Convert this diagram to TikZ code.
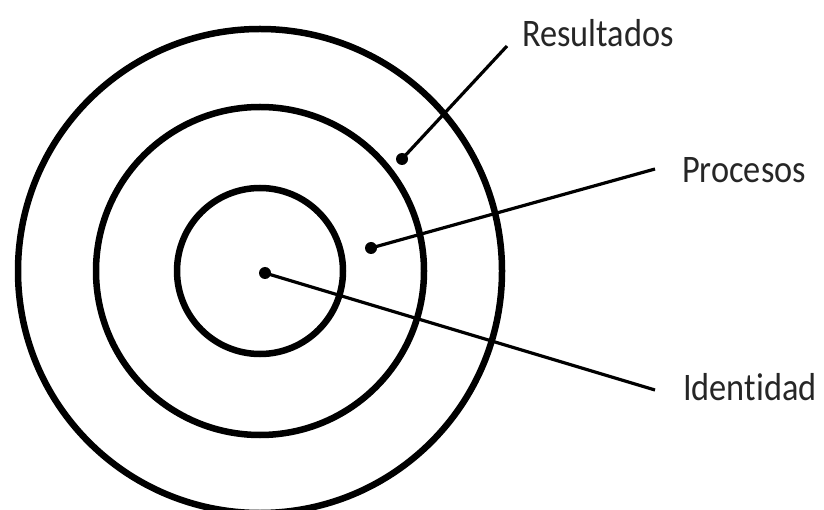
\documentclass[tikz,border=0pt]{standalone}
\usepackage{fontspec}
\setmainfont{Carlito}[Ligatures=NoCommon,FakeStretch=0.88]
\begin{document}
\begin{tikzpicture}[x=1pt,y=-1pt,
  ring/.style={draw=black,line width=6.5pt},
  dot/.style={circle,fill=black,inner sep=0pt,minimum size=12pt},
  lead/.style={draw=black,line width=3.2pt},
  lbl/.style={anchor=west,inner sep=0pt,font=\fontsize{39}{44}\selectfont,text=black!85}]
\useasboundingbox (0,0) rectangle (824,510);
\coordinate (c) at (260,271);
\draw[ring] (c) circle[radius=242];
\draw[ring] (c) circle[radius=164];
\draw[ring] (c) circle[radius=83];
\node[dot] (d1) at (402,159) {};
\node[dot] (d2) at (371,248) {};
\node[dot] (d3) at (265,273) {};
\coordinate (e1) at (507,46);
\coordinate (e2) at (655,169);
\coordinate (e3) at (655,390);
\draw[lead] (d1.center) -- (e1);
\draw[lead] (d2.center) -- (e2);
\draw[lead] (d3.center) -- (e3);
\node[lbl] (t1) at (522,33) {Resultados};
\node[lbl] (t2) at (682,170) {Procesos};
\node[lbl] (t3) at (683,387) {Identidad};
\end{tikzpicture}
\end{document}
